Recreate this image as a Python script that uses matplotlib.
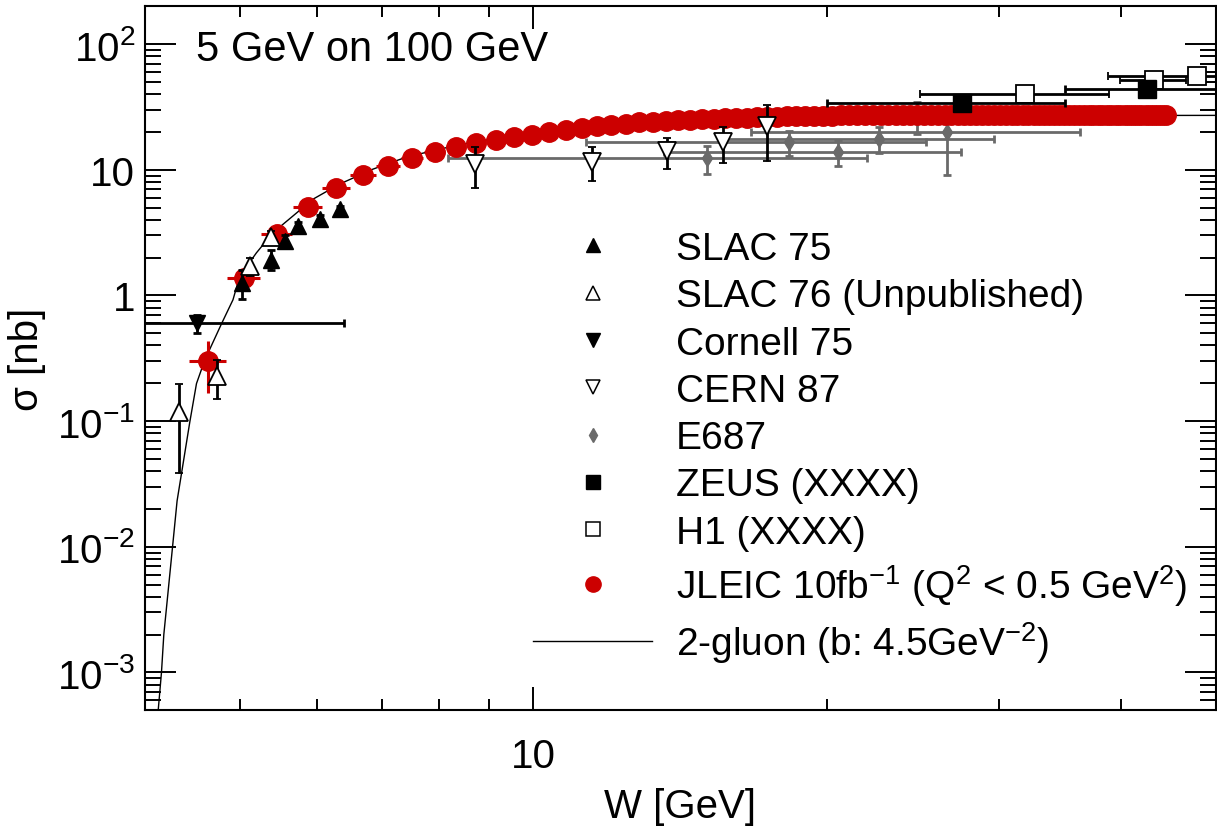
import numpy as np
import matplotlib
matplotlib.use('Agg')
import matplotlib.pyplot as plt
from matplotlib.lines import Line2D
from matplotlib.ticker import FixedLocator, FuncFormatter, LogLocator, NullFormatter

plt.rcParams['font.family'] = ['Liberation Sans', 'DejaVu Sans']
plt.rcParams['mathtext.fontset'] = 'custom'
plt.rcParams['mathtext.rm'] = 'Liberation Sans'
plt.rcParams['mathtext.it'] = 'Liberation Sans:italic'
plt.rcParams['mathtext.default'] = 'regular'

# SLAC 75
slac75_w = [5.03, 5.39, 5.56, 5.74, 6.04, 6.34]
slac75_s = [1.26, 1.93, 2.70, 3.56, 4.03, 4.85]
slac75_e = [0.33, 0.35, 0.30, 0.30, 0.30, 0.30]

# SLAC 76 (unpublished)
slac76_w = [4.33, 4.74, 5.12, 5.38]
slac76_s = [0.119, 0.229, 1.71, 2.93]
slac76_e = [0.080, 0.078, 0.29, 0.30]

# Cornell 75
cornell_w = [4.52]
cornell_s = [0.60]
cornell_xe = [1.87]
cornell_e = [0.10]

# CERN 87
cern_w = [8.72, 11.49, 13.71, 15.63, 17.34]
cern_s = [11.15, 11.6, 14.0, 16.6, 22.2]
cern_e = [3.95, 3.5, 3.9, 5.2, 10.4]

# E687
e687_w = [15.07, 18.26, 20.5, 22.6, 24.7, 26.5]
e687_s = [12.4, 16.7, 13.95, 17.7, 27.0, 19.9]
e687_xe = [6.9, 6.95, 6.9, 7.0, 8.0, 9.8]
e687_e = [3.2, 3.8, 3.2, 4.1, 7.7, 10.8]

# ZEUS
zeus_w = [27.5, 42.5]
zeus_s = [33.8, 44.2]
zeus_xe = [7.5, 7.5]
zeus_e = [2.0, 2.5]

# H1
h1_w = [31.9, 43.25, 47.8]
h1_s = [40.1, 51.4, 55.8]
h1_xe = [7.0, 3.35, 9.0]
h1_e = [2.0, 2.5, 2.5]

# JLEIC projection, 10 fb^-1
jleic_w = [4.64, 5.05, 5.46, 5.87, 6.28, 6.69, 7.10, 7.51, 7.92, 8.33,
           8.74, 9.15, 9.56, 9.97, 10.38, 10.79, 11.20, 11.61, 12.02, 12.43,
           12.84, 13.25, 13.66, 14.07, 14.48, 14.89, 15.30, 15.71, 16.12, 16.53,
           16.94, 17.35, 17.76, 18.17, 18.58, 18.99, 19.40, 19.81, 20.22, 20.63,
           21.04, 21.45, 21.86, 22.27, 22.68, 23.09, 23.50, 23.91, 24.32, 24.73,
           25.14, 25.55, 25.96, 26.37, 26.78, 27.19, 27.60, 28.01, 28.42, 28.83,
           29.24, 29.65, 30.06, 30.47, 30.88, 31.29, 31.70, 32.11, 32.52, 32.93,
           33.34, 33.75, 34.16, 34.57, 34.98, 35.39, 35.80, 36.21, 36.62, 37.03,
           37.44, 37.85, 38.26, 38.67, 39.08, 39.49, 39.90, 40.31, 40.72, 41.13,
           41.54, 41.95, 42.36, 42.77, 43.18, 43.59, 44.00, 44.41]
jleic_s = [0.30, 1.38, 3.06, 5.1, 7.1, 9.1, 10.8, 12.5, 13.8, 15.2,
           16.3, 17.2, 18.1, 18.9, 19.9, 20.8, 21.6, 22.2, 22.8, 23.3,
           23.8, 24.2, 24.5, 24.8, 25.1, 25.3, 25.5, 25.7, 25.9, 26.0,
           26.2, 26.3, 26.5, 26.6, 26.7, 26.8, 26.9, 27.0, 27.0, 27.1,
           27.1, 27.2, 27.2, 27.2, 27.2, 27.2, 27.2, 27.2, 27.2, 27.2,
           27.2, 27.2, 27.2, 27.2, 27.2, 27.2, 27.2, 27.2, 27.2, 27.2,
           27.2, 27.2, 27.2, 27.2, 27.2, 27.2, 27.2, 27.2, 27.2, 27.2,
           27.2, 27.2, 27.2, 27.2, 27.2, 27.2, 27.2, 27.2, 27.2, 27.2,
           27.2, 27.2, 27.2, 27.2, 27.2, 27.2, 27.2, 27.2, 27.2, 27.2,
           27.2, 27.2, 27.2, 27.2, 27.2, 27.2, 27.2, 27.2]
jleic_bin = 0.2                       # half bin width in W
jleic_e_low = [0.134, 0.14, 0.22, 0.30, 0.35]   # visible stat. errors of the first bins

# 2-gluon exchange model, b = 4.5 GeV^-2
gluon_w = [4.127, 4.159, 4.182, 4.268, 4.315, 4.446, 4.517, 4.606, 4.791, 4.923,
           5.002, 5.202, 5.410, 5.671, 5.944, 6.329, 6.844, 7.406, 8.012, 8.664,
           10.14, 12.0, 15.0, 20.0, 30.0, 50.0]
gluon_s = [5.0e-4, 1.0e-3, 2.0e-3, 9.8e-3, 0.0232, 0.098, 0.199, 0.306, 0.594, 0.924,
           1.42, 2.18, 3.16, 4.29, 5.83, 7.69, 10.1, 12.6, 14.6, 16.6,
           19.9, 22.6, 25.0, 26.4, 27.0, 27.1]

red = '#cc0000'
grey = '#6a6a6a'

fig = plt.figure(figsize=(12.17, 8.29), dpi=100)
ax = fig.add_axes([0.1191, 0.1420, 0.8800, 0.8492])
ax.set_xscale('log')
ax.set_yscale('log')

ax.plot(gluon_w, gluon_s, color='black', lw=1.0, zorder=1)

eb = dict(elinewidth=2.0, capthick=2.0, capsize=2.8, linestyle='none')

ax.errorbar(e687_w, e687_s, xerr=e687_xe, yerr=e687_e, fmt='d', ms=8,
            color=grey, ecolor=grey, zorder=2, **eb)

ax.errorbar(jleic_w, jleic_s, xerr=jleic_bin, fmt='o', ms=14, color=red,
            ecolor=red, elinewidth=2.2, capsize=0, linestyle='none', zorder=3)
ax.errorbar(jleic_w[:5], jleic_s[:5], yerr=jleic_e_low, fmt='none',
            ecolor=red, elinewidth=2.2, capsize=0, zorder=3)

ax.errorbar(cern_w, cern_s, yerr=cern_e, fmt='v', ms=12.5, mfc='white',
            mec='black', mew=1.3, ecolor='black', zorder=4, **eb)
ax.errorbar(cornell_w, cornell_s, xerr=cornell_xe, yerr=cornell_e, fmt='v',
            ms=12, color='black', ecolor='black', zorder=4, **eb)
ax.errorbar(slac75_w, slac75_s, yerr=slac75_e, fmt='^', ms=11.5,
            color='black', ecolor='black', zorder=5, **eb)
ax.errorbar(slac76_w, slac76_s, yerr=slac76_e, fmt='^', ms=12.5, mfc='white',
            mec='black', mew=1.3, ecolor='black', zorder=5, **eb)
ax.errorbar(h1_w, h1_s, xerr=h1_xe, yerr=h1_e, fmt='s', ms=12.7, mfc='white',
            mec='black', mew=1.3, ecolor='black', zorder=5, **eb)
ax.errorbar(zeus_w, zeus_s, xerr=zeus_xe, yerr=zeus_e, fmt='s', ms=12.7,
            color='black', ecolor='black', zorder=6, **eb)

ax.set_xlim(4.0, 50.0)
ax.set_ylim(5e-4, 200)

# axis ticks
ax.xaxis.set_major_locator(FixedLocator([10]))
ax.xaxis.set_minor_locator(FixedLocator([5, 6, 7, 8, 9, 20, 30, 40]))
ax.xaxis.set_major_formatter(FuncFormatter(lambda v, p: '%d' % v))
ax.xaxis.set_minor_formatter(NullFormatter())
ax.yaxis.set_major_locator(FixedLocator([1e-3, 1e-2, 1e-1, 1, 10, 100]))
ax.yaxis.set_minor_locator(LogLocator(base=10, subs=np.arange(2, 10)))
ax.yaxis.set_minor_formatter(NullFormatter())


def ylabel_fmt(v, pos):
    e = int(round(np.log10(v)))
    if e == 0:
        return '1'
    if e == 1:
        return '10'
    return r'$\mathregular{10^{%d}}$' % e


ax.yaxis.set_major_formatter(FuncFormatter(ylabel_fmt))

ax.tick_params(which='both', direction='in', top=True, right=True, width=1.4,
               labelsize=29)
ax.tick_params(axis='x', which='major', length=16.5, pad=19)
ax.tick_params(axis='x', which='minor', length=8)
ax.tick_params(axis='y', which='major', length=22, pad=7)
ax.tick_params(axis='y', which='minor', length=11.5)
for sp in ax.spines.values():
    sp.set_linewidth(1.5)

ax.set_xlabel('W [GeV]', fontsize=29, labelpad=9)
ax.set_ylabel('σ [nb]', fontsize=29, labelpad=8)

ax.text(0.048, 0.94, '5 GeV on 100 GeV', transform=ax.transAxes,
        fontsize=30, va='center', ha='left')

handles = [
    Line2D([], [], ls='none', marker='^', ms=9.5, color='black'),
    Line2D([], [], ls='none', marker='^', ms=9.5, mfc='white', mec='black', mew=1.1),
    Line2D([], [], ls='none', marker='v', ms=9.5, color='black'),
    Line2D([], [], ls='none', marker='v', ms=9.5, mfc='white', mec='black', mew=1.1),
    Line2D([], [], ls='none', marker='d', ms=7, color=grey),
    Line2D([], [], ls='none', marker='s', ms=9.5, color='black'),
    Line2D([], [], ls='none', marker='s', ms=9.5, mfc='white', mec='black', mew=1.1),
    Line2D([], [], ls='none', marker='o', ms=11, color=red),
    Line2D([], [], color='black', lw=1.0),
]
labels = [
    'SLAC 75',
    'SLAC 76 (Unpublished)',
    'Cornell 75',
    'CERN 87',
    'E687',
    'ZEUS (XXXX)',
    'H1 (XXXX)',
    r'JLEIC 10fb$^{-1}$ (Q$^{2}$ < 0.5 GeV$^{2}$)',
    r'2-gluon (b: 4.5GeV$^{-2}$)',
]
ax.legend(handles, labels, loc='upper left', bbox_to_anchor=(533 / 1217, 1 - 232 / 829),
          bbox_transform=fig.transFigure, frameon=False, fontsize=28,
          borderpad=0, borderaxespad=0, handlelength=3.07, handletextpad=0.6,
          labelspacing=0.29)

fig.savefig('out.png', dpi=100)
plt.close(fig)
